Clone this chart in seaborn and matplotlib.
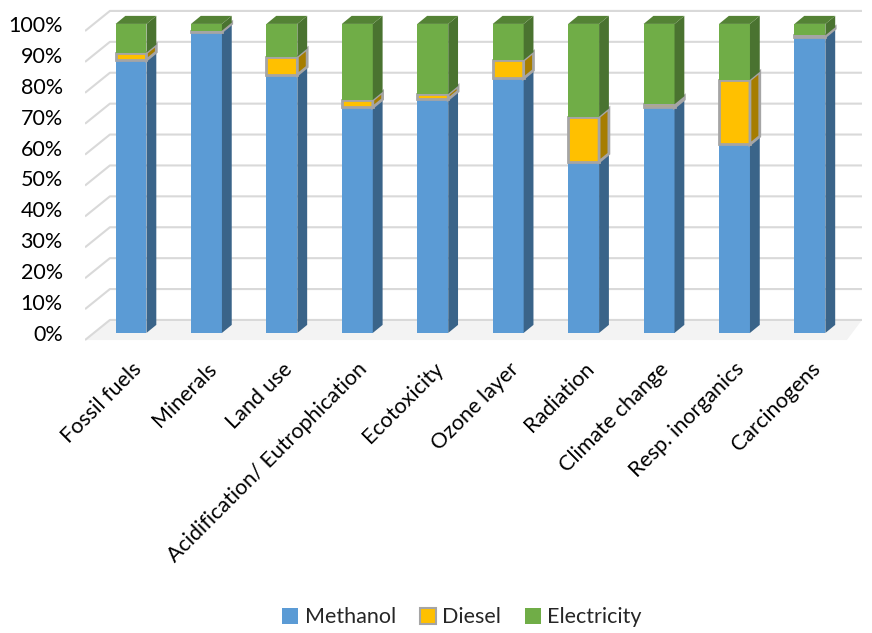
import numpy as np
import pandas as pd
import matplotlib
matplotlib.use("Agg")
import matplotlib.pyplot as plt
import matplotlib.transforms as mtransforms
from matplotlib.patches import Polygon, Patch
import seaborn as sns

sns.set_theme(style="white")
plt.rcParams["font.family"] = ["Lato", "DejaVu Sans"]

categories = ["Fossil fuels", "Minerals", "Land use", "Acidification/ Eutrophication",
              "Ecotoxicity", "Ozone layer", "Radiation", "Climate change",
              "Resp. inorganics", "Carcinogens"]
methanol = [88.3, 97.5, 83.5, 73.0, 75.6, 82.4, 55.4, 73.0, 61.0, 95.9]
diesel = [2.4, 0.3, 5.9, 2.4, 1.7, 5.9, 14.6, 1.0, 20.9, 0.4]
electricity = [100 - m - d for m, d in zip(methanol, diesel)]
yticks = list(range(0, 101, 10))

series = [
    ("Methanol", methanol, "#5B9BD5", "#3A6489", "#4A7FB0", None),
    ("Diesel", diesel, "#FFC000", "#A67D00", "#D9A300", "#A5A5A5"),
    ("Electricity", electricity, "#70AD47", "#4A7330", "#548235", None),
]

W = 0.41      # front face width
DX, DY = 0.13, 2.6   # bar depth
BDX, BDY = 0.33, 6.5  # back wall offset
XL, XR = -0.61, 9.69
FRONT0 = -2.3

fig = plt.figure(figsize=(8.72, 6.33), dpi=100)
ax = fig.add_axes([0.0975, 0.455, 0.891, 0.537])

# back wall gridlines and floor
floor = Polygon([(XL, FRONT0), (XL + BDX, FRONT0 + BDY), (XR, FRONT0 + BDY), (XR - 0.2, FRONT0)],
                closed=True, facecolor="#F3F3F3", edgecolor="none", zorder=0)
ax.add_patch(floor)
for v in yticks:
    ax.plot([XL, XL + BDX, XR], [v + FRONT0, v + FRONT0 + BDY, v + FRONT0 + BDY],
            color="#D9D9D9", lw=1.5, zorder=0.5, solid_capstyle="butt")

df = pd.DataFrame({"category": categories, "Methanol": methanol})
sns.barplot(data=df, x="category", y="Methanol", color=series[0][2], width=W,
            saturation=1, ax=ax, zorder=2, linewidth=0)

x = np.arange(len(categories))
bottom = np.zeros(len(categories))
for k, (name, vals, front, side, top, edge) in enumerate(series):
    vals = np.array(vals)
    if k > 0:
        ax.bar(x, vals, width=W, bottom=bottom, color=front, zorder=2 + k,
               edgecolor=edge if edge else "none", linewidth=2 if edge else 0)
    for i in range(len(x)):
        b, t = bottom[i], bottom[i] + vals[i]
        xr = x[i] + W / 2
        ax.add_patch(Polygon([(xr, b), (xr + DX, b + DY), (xr + DX, t + DY), (xr, t)],
                             closed=True, facecolor=side, zorder=2 + k,
                             edgecolor=edge if edge else "none", linewidth=2 if edge else 0))
        if k == len(series) - 1:
            xl = x[i] - W / 2
            ax.add_patch(Polygon([(xl, t), (xl + DX, t + DY), (xr + DX, t + DY), (xr, t)],
                                 closed=True, facecolor=top, zorder=2 + k, edgecolor="none"))
    bottom = bottom + vals

ax.set_xlim(XL, XR)
ax.set_ylim(-3.9, 106.1)
ax.set_yticks(yticks)
ax.set_yticklabels([f"{v}%" for v in yticks], fontsize=15.5)
offset = mtransforms.ScaledTranslation(0, -7 / 100, fig.dpi_scale_trans)
for lbl in ax.get_yticklabels():
    lbl.set_transform(lbl.get_transform() + offset)
ax.set_xticks(x)
ax.set_xticklabels(categories, fontsize=15.5, rotation=45, ha="right", rotation_mode="anchor")
ax.tick_params(axis="x", length=0, pad=10, colors="#000000")
ax.tick_params(axis="y", length=0, pad=16, colors="#000000")
ax.set_xlabel("")
ax.set_ylabel("")
for s in ax.spines.values():
    s.set_visible(False)

handles = [Patch(facecolor=c, edgecolor=e if e else c, linewidth=1.5 if e else 0, label=n)
           for n, _, c, _, _, e in series]
fig.legend(handles=handles, loc="center", bbox_to_anchor=(0.53, 0.025), ncol=3,
           frameon=False, fontsize=15.5, handlelength=0.75, handleheight=0.75,
           handletextpad=0.3, columnspacing=1.1)

fig.savefig("out.png", dpi=100)
